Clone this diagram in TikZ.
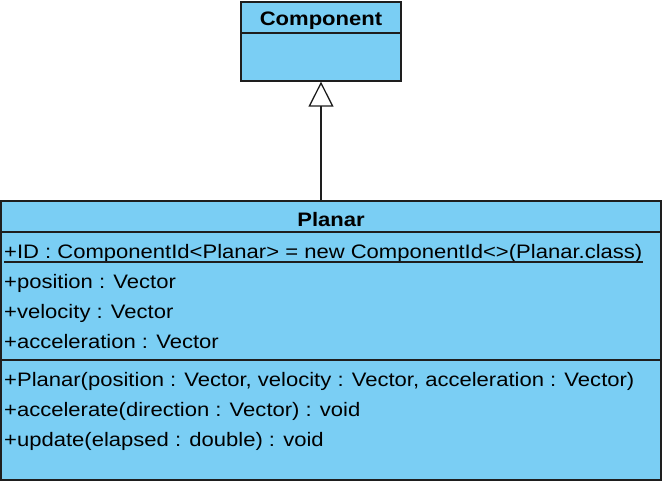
\documentclass[tikz,border=0pt]{standalone}
\usepackage{fontspec}
\setmainfont[FakeStretch=1.13]{Liberation Sans}
\usetikzlibrary{arrows.meta}
\definecolor{umlfill}{RGB}{122,206,244}
\definecolor{umlline}{RGB}{30,30,30}
\tikzset{
  classbox/.style={draw=umlline, fill=umlfill, line width=1.3pt, rectangle, inner sep=0pt},
  member/.style={anchor=base west, inner sep=0pt, font=\fontsize{19.5}{23}\selectfont},
  title/.style={anchor=base, inner sep=0pt, font=\fontsize{19.5}{23}\selectfont\bfseries},
  sep/.style={draw=umlline, line width=1.3pt},
  gen/.style={draw=umlline, line width=1.3pt, -{Triangle[open, length=25pt, width=25pt, line width=1.3pt]}}
}
\begin{document}
\begin{tikzpicture}[x=1pt, y=-1pt]
\useasboundingbox (0,0) rectangle (663,483);
% Component
\node[classbox, minimum width=160pt, minimum height=79pt] (comp) at (321,41.5) {};
\draw[sep] (comp.west |- 0,33) -- (comp.east |- 0,33);
\node[title] (compt) at (321,25) {Component};
% Planar
\node[classbox, minimum width=660pt, minimum height=279pt] (planar) at (331,340.5) {};
\draw[sep] (planar.west |- 0,232) -- (planar.east |- 0,232);
\draw[sep] (planar.west |- 0,360) -- (planar.east |- 0,360);
\node[title] (planart) at (331,226) {Planar};
\node[member] (id) at (4,258) {+ID : ComponentId<Planar> = new ComponentId<>(Planar.class)};
\draw[umlline, line width=1.2pt] ([yshift=-4pt]id.base west) -- ([yshift=-4pt]id.base east);
\node[member] (pos) at (4,288) {+position : Vector};
\node[member] (vel) at (4,318) {+velocity : Vector};
\node[member] (acc) at (4,348) {+acceleration : Vector};
\node[member] (ctor) at (4,386) {+Planar(position : Vector, velocity : Vector, acceleration : Vector)};
\node[member] (accel) at (4,416) {+accelerate(direction : Vector) : void};
\node[member] (upd) at (4,446) {+update(elapsed : double) : void};
% Generalization
\draw[gen] (comp.south |- planar.north) -- (comp.south);
\end{tikzpicture}
\end{document}
